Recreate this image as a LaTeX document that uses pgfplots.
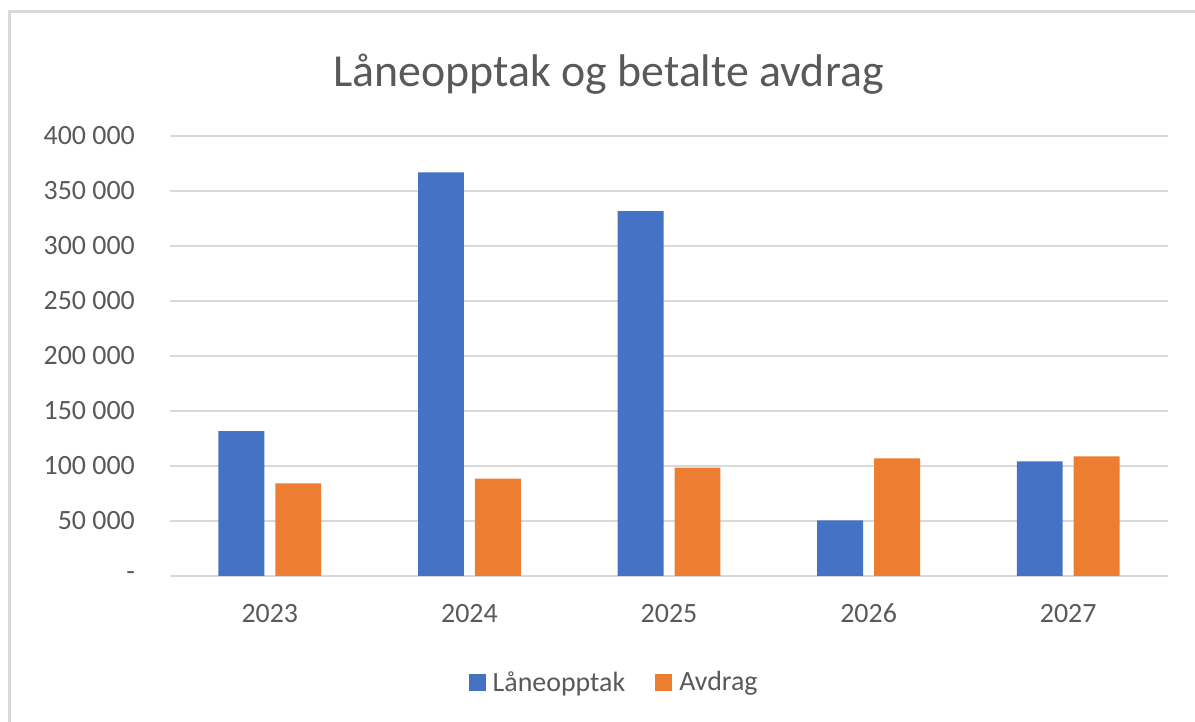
\documentclass[border=0pt]{standalone}
\usepackage{pgfplots}
\pgfplotsset{compat=1.18}
\usepackage{fontspec}
\setmainfont{Carlito}
\definecolor{cblue}{HTML}{4472C4}
\definecolor{corange}{HTML}{ED7D31}
\definecolor{ctext}{HTML}{595959}
\definecolor{cgrid}{HTML}{D9D9D9}
\begin{document}
\begin{tikzpicture}[x=1bp,y=1bp]
\path[use as bounding box] (0,0) rectangle (1195,722);
\draw[cgrid,line width=3bp] (9.5,0) -- (9.5,710.5) -- (1195,710.5);
\node[anchor=base,text=ctext,font=\fontsize{46}{52}\selectfont] at (608.5,635) {Låneopptak og betalte avdrag};
\begin{axis}[
  at={(170bp,146bp)}, anchor=south west,
  scale only axis, width=998bp, height=440bp,
  xmin=-0.5, xmax=4.5, ymin=0, ymax=400000,
  axis x line*=bottom, axis y line*=left,
  x axis line style={cgrid,line width=1.5bp,-},
  y axis line style={draw=none,-},
  ytick={0,50000,...,400000},
  yticklabels={\raisebox{-4bp}{-}\hspace{26bp},50 000,100 000,150 000,200 000,250 000,300 000,350 000,400 000},
  ymajorgrids, grid style={cgrid,line width=1.5bp},
  major tick length=0pt,
  xtick={0,1,2,3,4},
  xticklabels={2023,2024,2025,2026,2027},
  tick label style={text=ctext,font=\fontsize{28}{32}\selectfont},
  yticklabel style={anchor=east,inner sep=0pt,xshift=-35bp},
  xticklabel style={anchor=base,inner sep=0pt,yshift=-47bp},
  scaled y ticks=false,
  legend style={at={(0.444,-0.241)},anchor=center,draw=none,fill=none,
    legend columns=2,font=\fontsize{28}{32}\selectfont,text=ctext,
    nodes={inner sep=0pt},
    /tikz/every odd column/.append style={column sep=7bp},
    /tikz/every even column/.append style={column sep=30bp},
    legend cell align=left},
  legend image code/.code={\fill[#1] (0bp,-8.5bp) rectangle (17bp,8.5bp);},
]
\addplot[ybar,bar width=0.23,bar shift=-0.1425,fill=cblue,draw=none] coordinates {(0,131800) (1,367000) (2,331800) (3,50600) (4,104200)};
\addplot[ybar,bar width=0.23,bar shift=0.1425,fill=corange,draw=none] coordinates {(0,84200) (1,88500) (2,98500) (3,107000) (4,108800)};
\legend{Låneopptak,Avdrag}
\end{axis}
\end{tikzpicture}
\end{document}
